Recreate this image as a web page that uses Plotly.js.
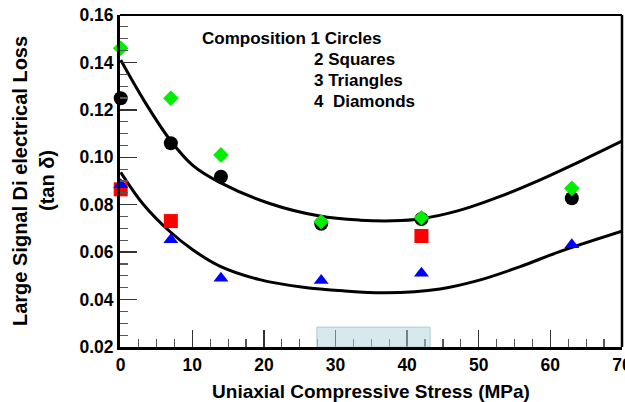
<!DOCTYPE html>
<html>
<head>
<meta charset="utf-8">
<script src="https://cdn.plot.ly/plotly-3.0.1.min.js"></script>
<style>html,body{margin:0;padding:0;background:#fff;}#chart{width:625px;height:402px;}</style>
</head>
<body>
<div id="chart"></div>
<script>
// Measured data (Uniaxial compressive stress, MPa)
var stress = [0, 7, 14, 28, 42, 63];
var comp1Circles   = [0.1249, 0.1059, 0.0918, 0.0720, 0.0740, 0.0827];
var comp2Squares   = [0.0865, 0.0731, null, null, 0.0668, null];
var comp3Triangles = [0.0884, 0.0652, 0.0490, 0.0480, 0.0511, 0.0631];
var comp4Diamonds  = [0.1460, 0.1249, 0.1010, 0.0728, 0.0745, 0.0869];

// Fitted curves
var upperFitX = [0, 3.2, 6.9, 10.1, 13.9, 20.8, 27.8, 33.4, 38, 42, 47.3, 52.9, 58.5, 64.1, 70];
var upperFitY = [0.141, 0.1242, 0.1073, 0.0965, 0.0893, 0.0805, 0.0752, 0.0735, 0.0732, 0.0741, 0.0776, 0.0834, 0.0904, 0.0982, 0.1068];
var lowerFitX = [0, 3.2, 6.9, 10.1, 13.9, 19.4, 25.5, 31, 37, 44.6, 50.1, 55.7, 61.3, 70];
var lowerFitY = [0.0937, 0.0800, 0.0686, 0.0609, 0.0540, 0.0484, 0.0452, 0.0437, 0.0429, 0.0445, 0.0482, 0.0538, 0.0602, 0.0688];

// Shaded region
var shadeX = [27.4, 43.2];
var shadeY = [0.02, 0.0284];

// Tick labels
var xTicks = [0, 10, 20, 30, 40, 50, 60, 70];
var xTickText = ["0", "10", "20", "30", "40", "50", "60", "70"];
var yTicks = [0.02, 0.04, 0.06, 0.08, 0.10, 0.12, 0.14, 0.16];
var yTickText = ["0.02", "0.04", "0.06", "0.08", "0.10", "0.12", "0.14", "0.16"];

var legendLines = ["Composition 1 Circles", "2 Squares", "3 Triangles", "4  Diamonds"];
var legendX = [11.1, 26.7, 26.7, 26.7];
var legendY = [0.1503, 0.1412, 0.1323, 0.1234];

var F = 'Liberation Sans, Arial, sans-serif';
function b(s) { return '<b>' + s + '</b>'; }

var traces = [
  {x: upperFitX, y: upperFitY, mode: 'lines', cliponaxis: false, line: {color: '#000', width: 3, shape: 'spline', smoothing: 1}, hoverinfo: 'skip'},
  {x: lowerFitX, y: lowerFitY, mode: 'lines', cliponaxis: false, line: {color: '#000', width: 3, shape: 'spline', smoothing: 1}, hoverinfo: 'skip'},
  {x: stress, y: comp1Circles, mode: 'markers', name: 'Composition 1', cliponaxis: false, marker: {symbol: 'circle', size: 14, color: '#000'}},
  {x: stress, y: comp2Squares, mode: 'markers', name: 'Composition 2', cliponaxis: false, marker: {symbol: 'square', size: 14, color: '#ff0000'}},
  {x: stress, y: comp3Triangles, mode: 'markers', name: 'Composition 3', cliponaxis: false, marker: {symbol: 'triangle-up', size: 13, color: '#0000ff'}},
  {x: stress, y: comp4Diamonds, mode: 'markers', name: 'Composition 4', cliponaxis: false, marker: {symbol: 'diamond', size: 12, color: '#00ee00'}}
];

var annotations = [
  {xref: 'paper', yref: 'paper', x: 0, y: 0.5, xshift: -100, text: b('Large Signal Di electrical Loss'), textangle: -90, showarrow: false, xanchor: 'center', yanchor: 'middle', font: {family: F, size: 20, color: '#000'}},
  {xref: 'paper', yref: 'paper', x: 0, y: 0.5, xshift: -73, text: b('(tan δ)'), textangle: -90, showarrow: false, xanchor: 'center', yanchor: 'middle', font: {family: F, size: 20, color: '#000'}}
];
for (var i = 0; i < legendLines.length; i++) {
  annotations.push({xref: 'x', yref: 'y', x: legendX[i], y: legendY[i], text: b(legendLines[i]), showarrow: false, xanchor: 'left', yanchor: 'middle',
    font: {family: F, size: 17, color: '#000'}});
}

var layout = {
  width: 625, height: 402,
  margin: {l: 120, r: 3, t: 15, b: 55},
  showlegend: false,
  xaxis: {
    range: [-0.1, 70.01], showgrid: false, zeroline: false,
    tickvals: xTicks, ticktext: xTickText.map(b),
    ticks: 'inside', ticklen: 17, tickwidth: 1.5, tickcolor: '#333',
    minor: {dtick: 2.5, ticks: 'inside', ticklen: 8, tickwidth: 1.2, tickcolor: '#555'},
    showline: true, linewidth: 3, linecolor: '#000',
    ticklabeloverflow: 'allow',
    tickfont: {family: F, size: 17.5, color: '#000'},
    title: {text: b('Uniaxial Compressive Stress (MPa)'), font: {family: F, size: 19, color: '#000'}, standoff: 11}
  },
  yaxis: {
    range: [0.02, 0.16], showgrid: false, zeroline: false,
    tickvals: yTicks, ticktext: yTickText.map(b),
    ticks: 'inside', ticklen: 17, tickwidth: 1.5, tickcolor: '#333',
    minor: {dtick: 0.005, ticks: 'inside', ticklen: 8, tickwidth: 1.2, tickcolor: '#555'},
    showline: true, linewidth: 3, linecolor: '#000',
    tickfont: {family: F, size: 17.5, color: '#000'}
  },
  shapes: [
    {type: 'rect', xref: 'x', yref: 'y', x0: shadeX[0], x1: shadeX[1], y0: shadeY[0], y1: shadeY[1],
     fillcolor: 'rgba(175,212,218,0.5)', line: {color: '#a6cfd5', width: 1}, layer: 'above'},
    {type: 'line', xref: 'paper', yref: 'paper', x0: 0, x1: 1, y0: 1, y1: 1, line: {color: '#000', width: 2}},
    {type: 'line', xref: 'paper', yref: 'paper', x0: 1, x1: 1, y0: 0, y1: 1, line: {color: '#000', width: 2.5}}
  ],
  annotations: annotations
};

Plotly.newPlot('chart', traces, layout, {displayModeBar: false, staticPlot: true});
</script>
</body>
</html>
